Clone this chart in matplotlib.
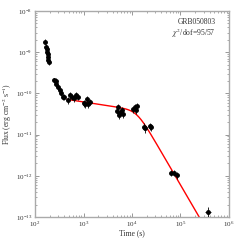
import numpy as np
import matplotlib
matplotlib.use("Agg")
import matplotlib.pyplot as plt

# light curve points
time_s = [161, 169, 174, 179, 183, 188, 188, 194,
          250, 267, 275, 294, 323, 343, 378, 402,
          486, 535, 571, 646, 711, 759,
          1009, 1074, 1164, 1256, 1361,
          4980, 5220, 5470, 5660, 6140, 6620,
          10650, 11530, 12500, 12100,
          17660, 18540, 23500, 24300,
          62800, 73500, 83500,
          374000]
time_err = [3, 3, 3, 3, 3, 3, 3, 3,
            6, 6, 6, 7, 8, 8, 9, 10,
            15, 15, 15, 18, 18, 20,
            30, 30, 35, 35, 40,
            150, 150, 150, 150, 180, 180,
            300, 300, 350, 300,
            700, 700, 900, 900,
            2500, 3000, 3000,
            60000]
flux = [1.80e-9, 1.36e-9, 1.17e-9, 1.03e-9, 9.0e-10, 7.8e-10, 6.5e-10, 5.9e-10,
        2.11e-10, 2.03e-10, 1.69e-10, 1.46e-10, 1.21e-10, 1.04e-10, 8.3e-11, 8.3e-11,
        6.9e-11, 9.0e-11, 8.3e-11, 7.6e-11, 9.0e-11, 8.3e-11,
        5.9e-11, 5.5e-11, 7.2e-11, 5.5e-11, 6.3e-11,
        3.8e-11, 4.75e-11, 3.0e-11, 3.4e-11, 3.95e-11, 3.16e-11,
        4.1e-11, 4.75e-11, 4.9e-11, 3.95e-11,
        1.56e-11, 1.42e-11, 1.62e-11, 1.50e-11,
        1.19e-12, 1.19e-12, 1.03e-12,
        1.35e-13]
flux_err = [2.5e-10, 2.0e-10, 1.8e-10, 1.6e-10, 1.4e-10, 1.2e-10, 1.0e-10, 1.0e-10,
            3.0e-11, 3.0e-11, 2.5e-11, 2.2e-11, 1.8e-11, 1.6e-11, 1.4e-11, 1.4e-11,
            1.4e-11, 1.6e-11, 1.5e-11, 1.4e-11, 1.6e-11, 1.5e-11,
            1.1e-11, 1.0e-11, 1.3e-11, 1.0e-11, 1.1e-11,
            7.0e-12, 8.0e-12, 6.0e-12, 6.0e-12, 7.0e-12, 6.0e-12,
            7.0e-12, 8.0e-12, 8.0e-12, 7.0e-12,
            3.0e-12, 3.0e-12, 3.0e-12, 3.0e-12,
            2.0e-13, 2.0e-13, 2.0e-13,
            3.5e-14]

# smoothly broken power-law fit
t_break = 1.26e4
f_break = 3.94e-11
alpha1, alpha2, smooth = 0.18, 2.02, 2.5
fit_start, fit_end = 463, 1e6

plt.rcParams["font.family"] = ["Liberation Serif", "DejaVu Serif"]
plt.rcParams["mathtext.fontset"] = "stix"

fig = plt.figure(figsize=(2.4, 2.4), dpi=100)
ax = fig.add_axes([0.146, 0.096, 0.808, 0.858])

ax.errorbar(time_s, flux, xerr=time_err, yerr=flux_err, fmt="o", ms=2.5,
            color="black", ecolor="black", elinewidth=0.6, capsize=0, zorder=3)

tt = np.logspace(np.log10(fit_start), np.log10(fit_end), 400)
x = tt / t_break
model = f_break * (x ** (alpha1 * smooth) + x ** (alpha2 * smooth)) ** (-1.0 / smooth)
ax.plot(tt, model, color="red", lw=1.0, zorder=2)

ax.set_xscale("log")
ax.set_yscale("log")
ax.set_xlim(1e2, 1e6)
ax.set_ylim(1e-13, 1e-8)

for s in ax.spines.values():
    s.set_color("#aaaaaa")
    s.set_linewidth(1.0)
ax.tick_params(which="both", direction="in", top=True, right=True,
               colors="#888888", labelcolor="#333333", labelsize=5, pad=2)
ax.tick_params(which="major", length=3, width=0.6)
ax.tick_params(which="minor", length=1.5, width=0.5)

ax.set_xlabel("Time (s)", fontsize=5.5, color="#333333", labelpad=0)
ax.set_ylabel(r"Flux (erg cm$^{-2}$ s$^{-1}$)", fontsize=5.5, color="#333333", labelpad=1)

ax.text(0.93, 0.948, "GRB050803", transform=ax.transAxes, ha="right", va="center",
        fontsize=5.5, color="#333333")
ax.text(0.93, 0.893, r"$\chi^2$/dof=95/57", transform=ax.transAxes, ha="right",
        va="center", fontsize=5.5, color="#333333")

fig.savefig("out.png", dpi=100)
